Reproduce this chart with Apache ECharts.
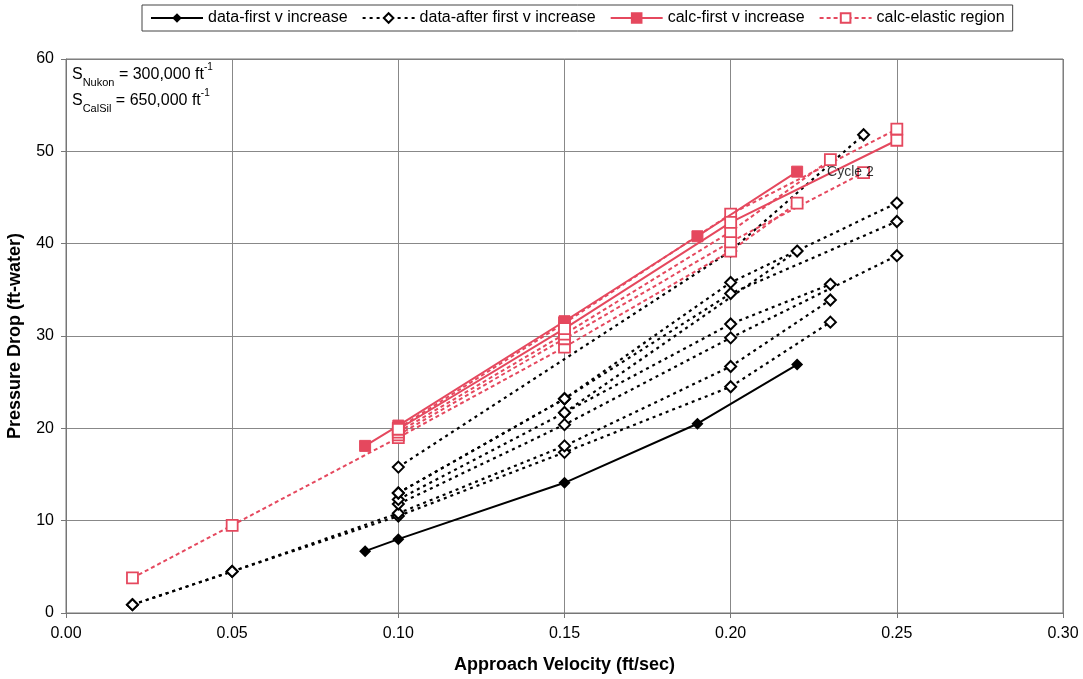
<!DOCTYPE html>
<html>
<head>
<meta charset="utf-8">
<script src="https://cdn.jsdelivr.net/npm/echarts@6/dist/echarts.min.js"></script>
<style>html,body{margin:0;padding:0;background:#fff}#c{width:1083px;height:679px}</style>
</head>
<body>
<div id="c"></div>
<script>
// ---- data (x = approach velocity ft/sec, y = pressure drop ft-water) ----
const xTicks = [0.00, 0.05, 0.10, 0.15, 0.20, 0.25, 0.30];
const yTicks = [0, 10, 20, 30, 40, 50, 60];

const dataFirst = [[0.09, 6.7], [0.10, 8.0], [0.15, 14.1], [0.19, 20.5], [0.22, 26.9]];

const afterA = [[0.02, 0.9], [0.05, 4.5], [0.10, 10.5], [0.15, 17.4], [0.20, 24.5], [0.23, 31.5]];
const afterB = [[0.02, 0.9], [0.05, 4.5], [0.10, 10.8], [0.15, 18.1], [0.20, 26.7], [0.23, 33.9]];
const afterC = [[0.10, 11.8], [0.15, 20.4], [0.20, 29.8], [0.25, 38.7]];
const afterD = [[0.10, 12.3], [0.15, 21.7], [0.20, 31.3], [0.23, 35.6]];
const afterE = [[0.10, 13.0], [0.15, 23.2], [0.20, 34.6], [0.25, 42.4]];
const afterF = [[0.10, 13.0], [0.15, 23.2], [0.20, 35.8], [0.25, 44.4]];
const afterG = [[0.10, 15.8], [0.20, 39.2], [0.24, 51.8]];
const afterH = [[0.15, 21.7], [0.22, 39.2]];

const calcFirstA = [[0.09, 18.1], [0.10, 20.3], [0.15, 31.6], [0.19, 40.8], [0.22, 47.8]];
const calcFirstB = [[0.10, 19.9], [0.15, 30.8], [0.20, 42.3], [0.25, 51.2]];

const elasticA = [[0.02, 3.8], [0.05, 9.5], [0.10, 19.0], [0.15, 28.8], [0.20, 39.2], [0.22, 44.4]];
const elasticB = [[0.10, 19.3], [0.15, 29.7], [0.20, 40.2], [0.24, 47.7]];
const elasticC = [[0.10, 19.6], [0.15, 30.2], [0.20, 41.3], [0.23, 49.1]];
const elasticD = [[0.10, 20.0], [0.15, 31.4], [0.20, 43.2], [0.25, 52.4]];

const names = ['data-first v increase', 'data-after first v increase', 'calc-first v increase', 'calc-elastic region'];
const cycleLabel = 'Cycle 2';
const cyclePoint = [0.229, 47.8];

// ---- styling ----
const RED = '#E5485E';
const FONT = 'Liberation Sans, Arial, sans-serif';
const chart = echarts.init(document.getElementById('c'), null, {renderer: 'canvas'});

function afterSeries(d) {
  return {
    name: names[1], type: 'line', data: d, symbol: 'diamond', symbolSize: 11,
    itemStyle: {color: '#fff', borderColor: '#000', borderWidth: 2},
    lineStyle: {color: '#000', width: 2.2, type: [3, 4]},
    z: 3, animation: false
  };
}
function elasticSeries(d) {
  return {
    name: names[3], type: 'line', data: d, symbol: 'rect', symbolSize: 11,
    itemStyle: {color: '#fff', borderColor: RED, borderWidth: 1.8},
    lineStyle: {color: RED, width: 2, type: [4, 3]},
    z: 4, animation: false
  };
}
function calcSeries(d, filled) {
  return {
    name: names[2], type: 'line', data: d, symbol: 'rect', symbolSize: 11,
    itemStyle: filled ? {color: RED, borderColor: RED, borderWidth: 1} : {color: '#fff', borderColor: RED, borderWidth: 1.8},
    lineStyle: {color: RED, width: 2, type: 'solid'},
    z: 5, animation: false
  };
}

const series = [
  {
    name: names[0], type: 'line', data: dataFirst, symbol: 'diamond', symbolSize: 12,
    itemStyle: {color: '#000'}, lineStyle: {color: '#000', width: 2}, z: 6, animation: false
  },
  afterSeries(afterA), afterSeries(afterB), afterSeries(afterC), afterSeries(afterD),
  afterSeries(afterE), afterSeries(afterF), afterSeries(afterG), afterSeries(afterH),
  calcSeries(calcFirstA, true),
  elasticSeries(elasticA), elasticSeries(elasticB), elasticSeries(elasticC), elasticSeries(elasticD),
  calcSeries(calcFirstB, false),
  {
    type: 'scatter', data: [cyclePoint], symbolSize: 0, silent: true, z: 10,
    label: {show: true, formatter: cycleLabel, position: 'right', distance: 0,
      color: '#000', fontSize: 14, fontFamily: FONT},
    animation: false
  }
];

const axisFont = {color: '#000', fontSize: 16, fontFamily: FONT};

chart.setOption({
  backgroundColor: '#fff',
  animation: false,
  grid: {left: 66, right: 20, top: 59, bottom: 66, containLabel: false, outerBoundsMode: 'none'},
  legend: {
    data: names.map(n => ({name: n})),
    top: 5, left: 142,
    borderColor: '#444', borderWidth: 1, padding: [5, 8, 5, 8],
    itemWidth: 52, itemHeight: 12, itemGap: 14,
    textStyle: {color: '#000', fontSize: 16, fontFamily: FONT},
    selectedMode: false
  },
  xAxis: {
    type: 'value', min: 0, max: 0.3, interval: 0.05,
    name: 'Approach Velocity (ft/sec)', nameLocation: 'middle', nameGap: 43,
    nameTextStyle: {color: '#000', fontSize: 18, fontWeight: 'bold', fontFamily: FONT},
    axisLine: {lineStyle: {color: '#777', width: 1}},
    axisTick: {show: true, inside: false, length: 5, lineStyle: {color: '#777'}},
    axisLabel: Object.assign({margin: 13, formatter: v => {
      const t = xTicks.find(x => Math.abs(x - v) < 1e-9);
      return (t === undefined ? v : t).toFixed(2);
    }}, axisFont),
    splitLine: {show: true, lineStyle: {color: '#888', width: 1}}
  },
  yAxis: {
    type: 'value', min: 0, max: 60, interval: 10,
    name: 'Pressure Drop (ft-water)', nameLocation: 'middle', nameGap: 42,
    nameTextStyle: {color: '#000', fontSize: 18, fontWeight: 'bold', fontFamily: FONT},
    axisLine: {show: true, lineStyle: {color: '#777', width: 1}},
    axisTick: {show: true, inside: false, length: 5, lineStyle: {color: '#777'}},
    axisLabel: Object.assign({margin: 12, formatter: v => String(yTicks.find(y => y === v) ?? v)}, axisFont),
    splitLine: {show: true, lineStyle: {color: '#888', width: 1}}
  },
  graphic: [
    {type: 'rect', shape: {x: 66, y: 59, width: 1063 - 66, height: 613 - 59}, style: {fill: 'none', stroke: '#777', lineWidth: 1}, silent: true, z: 1},
    {
      type: 'text', left: 72, top: 62, z: 20,
      style: {
        text: '{s|S}{sub|Nukon}{s| = 300,000 ft}{sup|-1}\n{s|S}{sub|CalSil}{s| = 650,000 ft}{sup|-1}',
        rich: {
          s: {fontSize: 16, lineHeight: 26, color: '#000', fontFamily: FONT},
          sub: {fontSize: 11, lineHeight: 18, verticalAlign: 'bottom', color: '#000', fontFamily: FONT},
          sup: {fontSize: 10, lineHeight: 22, verticalAlign: 'top', color: '#000', fontFamily: FONT}
        }
      }
    }
  ],
  series: series
});
</script>
</body>
</html>
